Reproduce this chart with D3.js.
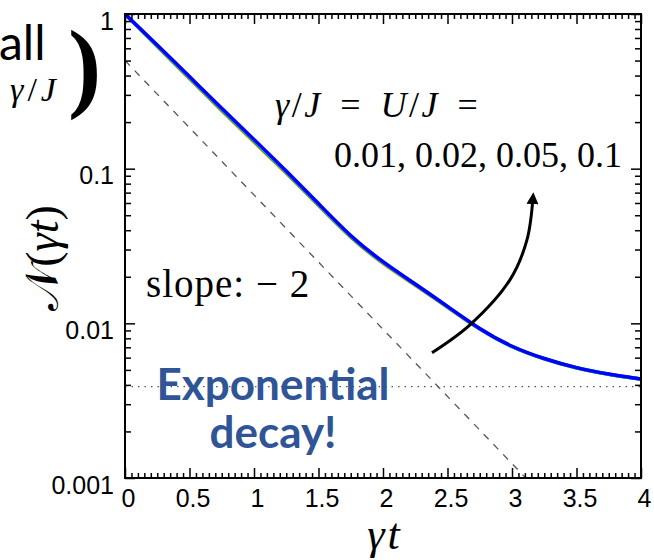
<!DOCTYPE html>
<html>
<head>
<meta charset="utf-8">
<script src="https://d3js.org/d3.v7.min.js"></script>
<style>
body { margin: 0; background: white; }
svg { display: block; }
</style>
</head>
<body>
<script>
// data
var times = [0, 0.25, 0.5, 0.75, 1, 1.25, 1.5, 1.75, 2, 2.25, 2.5, 2.75, 3, 3.25, 3.5, 3.75, 4];
var n001 = [1, 0.615, 0.381, 0.236, 0.149, 0.0935, 0.0578, 0.0354, 0.0242, 0.0177, 0.0127, 0.00906, 0.00697, 0.00585, 0.00511, 0.00466, 0.00435];
var n002 = [1, 0.620, 0.385, 0.239, 0.151, 0.0945, 0.0584, 0.0357, 0.0244, 0.0178, 0.0128, 0.00909, 0.00698, 0.00586, 0.00512, 0.00467, 0.00436];
var n005 = [1, 0.625, 0.389, 0.242, 0.153, 0.0955, 0.0590, 0.0360, 0.0246, 0.0179, 0.0128, 0.00912, 0.00699, 0.00587, 0.00512, 0.00467, 0.00436];
var n01  = [1, 0.631, 0.394, 0.245, 0.155, 0.0966, 0.0596, 0.0363, 0.0248, 0.0180, 0.0129, 0.00915, 0.00700, 0.00589, 0.00513, 0.00468, 0.00436];
var seriesColors = ["#ff8c00", "#2ca02c", "#00c0c0", "#0000ff"];

var slopeT = [0, 3.107];
var slopeN = [0.5, 0.001];
var plateau = 0.0039;

var xTicks = [0, 0.5, 1, 1.5, 2, 2.5, 3, 3.5, 4];
var yTicks = [1, 0.1, 0.01, 0.001];
var yTickLabels = ["1", "0.1", "0.01", "0.001"];

// arrow annotation path (data coords)
var arrowT = [2.38, 2.674, 2.984, 3.116, 3.163];
var arrowN = [0.00645, 0.00977, 0.0191, 0.0346, 0.0656];

var width = 654, height = 560;
var pLeft = 125, pRight = 641, pTop = 14, pBottom = 478;

var x = d3.scaleLinear().domain([0, 4]).range([pLeft, pRight]);
var y = d3.scaleLog().domain([0.001, 1]).range([pBottom, pTop]);

var svg = d3.select("body").append("svg")
  .attr("width", width)
  .attr("height", height);

var defs = svg.append("defs");
defs.append("clipPath").attr("id", "plot")
  .append("rect").attr("x", pLeft).attr("y", pTop)
  .attr("width", pRight - pLeft).attr("height", pBottom - pTop);
defs.append("marker").attr("id", "head")
  .attr("viewBox", "0 0 10 10").attr("refX", 6).attr("refY", 5)
  .attr("markerWidth", 4).attr("markerHeight", 4)
  .attr("orient", "auto")
  .append("path").attr("d", "M0,0 L10,5 L0,10 z").attr("fill", "black");

var g = svg.append("g").attr("clip-path", "url(#plot)");

// dotted plateau
g.append("line")
  .attr("x1", x(0)).attr("x2", x(4))
  .attr("y1", y(plateau)).attr("y2", y(plateau))
  .attr("stroke", "#555").attr("stroke-width", 1.3)
  .attr("stroke-dasharray", "1.5,5");

// dashed slope -2 guide
g.append("line")
  .attr("x1", x(slopeT[0])).attr("y1", y(slopeN[0]))
  .attr("x2", x(slopeT[1])).attr("y2", y(slopeN[1]))
  .attr("stroke", "#555").attr("stroke-width", 1.3)
  .attr("stroke-dasharray", "7,7");

// curves
var line = d3.line()
  .x(function(d) { return x(d[0]); })
  .y(function(d) { return y(d[1]); })
  .curve(d3.curveBasis);

[n001, n002, n005, n01].forEach(function(s, i) {
  g.append("path")
    .datum(d3.zip(times, s))
    .attr("fill", "none")
    .attr("stroke", seriesColors[i])
    .attr("stroke-width", 3.5)
    .attr("d", line);
});

// arrow
var arrowLine = d3.line()
  .x(function(d) { return x(d[0]); })
  .y(function(d) { return y(d[1]); })
  .curve(d3.curveCatmullRom);
svg.append("path")
  .datum(d3.zip(arrowT, arrowN))
  .attr("fill", "none")
  .attr("stroke", "black")
  .attr("stroke-width", 3)
  .attr("marker-end", "url(#head)")
  .attr("d", arrowLine);

// axes, ticks pointing inward
var minorX = d3.range(0, 4.0001, 0.05).filter(function(v) { return Math.abs(v * 2 - Math.round(v * 2)) > 1e-6; });
var minorY = [];
[0.001, 0.01, 0.1].forEach(function(p) { for (var k = 2; k <= 9; k++) minorY.push(p * k); });

function styleAxis(sel) {
  sel.select(".domain").remove();
  sel.selectAll(".tick line").attr("stroke", "black").attr("stroke-width", 1.5);
}

svg.append("g").attr("transform", "translate(0," + pBottom + ")")
  .call(d3.axisBottom(x).tickValues(xTicks).tickSize(-10).tickFormat(d3.format("")))
  .call(styleAxis)
  .selectAll("text")
  .attr("y", 29).attr("dy", null).attr("dx", 3)
  .style("font-family", "Liberation Sans, Arial, sans-serif")
  .style("font-size", "25px").attr("fill", "black");
svg.append("g").attr("transform", "translate(0," + pBottom + ")")
  .call(d3.axisBottom(x).tickValues(minorX).tickSize(-5).tickFormat(""))
  .call(styleAxis);
svg.append("g").attr("transform", "translate(0," + pTop + ")")
  .call(d3.axisTop(x).tickValues(xTicks).tickSize(-10).tickFormat(""))
  .call(styleAxis);
svg.append("g").attr("transform", "translate(0," + pTop + ")")
  .call(d3.axisTop(x).tickValues(minorX).tickSize(-5).tickFormat(""))
  .call(styleAxis);

svg.append("g").attr("transform", "translate(" + pLeft + ",0)")
  .call(d3.axisLeft(y).tickValues(yTicks).tickSize(-10)
    .tickFormat(function(d, i) { return yTickLabels[i]; }))
  .call(styleAxis)
  .selectAll("text")
  .attr("x", -11).attr("dy", "0.6em")
  .style("font-family", "Liberation Sans, Arial, sans-serif")
  .style("font-size", "25px").attr("fill", "black");
svg.append("g").attr("transform", "translate(" + pLeft + ",0)")
  .call(d3.axisLeft(y).tickValues(minorY).tickSize(-6).tickFormat(""))
  .call(styleAxis);
svg.append("g").attr("transform", "translate(" + pRight + ",0)")
  .call(d3.axisRight(y).tickValues(yTicks).tickSize(-10).tickFormat(""))
  .call(styleAxis);
svg.append("g").attr("transform", "translate(" + pRight + ",0)")
  .call(d3.axisRight(y).tickValues(minorY).tickSize(-6).tickFormat(""))
  .call(styleAxis);

// frame
svg.append("rect")
  .attr("x", pLeft).attr("y", pTop)
  .attr("width", pRight - pLeft).attr("height", pBottom - pTop)
  .attr("fill", "none").attr("stroke", "black").attr("stroke-width", 2);

var serif = "Liberation Serif, Times New Roman, serif";

// axis titles
svg.append("text")
  .attr("x", 385).attr("y", 549)
  .attr("text-anchor", "middle")
  .style("font-family", serif).style("font-style", "italic")
  .style("font-size", "44px").style("letter-spacing", "3px")
  .text("γt");

var yl = svg.append("text")
  .attr("transform", "translate(58,258) rotate(-90)")
  .attr("text-anchor", "middle")
  .style("font-family", serif)
  .style("font-size", "46px");
yl.append("tspan").text("𝒩(");
yl.append("tspan").style("font-style", "italic").text("γt");
yl.append("tspan").text(")");

// annotations
var eq = svg.append("text").attr("x", 275).attr("y", 117)
  .style("font-family", serif).style("font-size", "36px")
  .style("letter-spacing", "2.5px").style("word-spacing", "6px");
eq.append("tspan").style("font-style", "italic").text("γ");
eq.append("tspan").text("/");
eq.append("tspan").style("font-style", "italic").text("J");
eq.append("tspan").text(" = ");
eq.append("tspan").style("font-style", "italic").text("U");
eq.append("tspan").text("/");
eq.append("tspan").style("font-style", "italic").text("J");
eq.append("tspan").text(" =");

svg.append("text").attr("x", 334).attr("y", 167)
  .style("font-family", serif).style("font-size", "36px")
  .text("0.01, 0.02, 0.05, 0.1");

svg.append("text").attr("x", 146).attr("y", 297)
  .style("font-family", serif).style("font-size", "39px")
  .style("letter-spacing", "1px")
  .text("slope: − 2");

var blue = "#2f5597";
svg.append("text").attr("x", 273).attr("y", 400)
  .attr("text-anchor", "middle")
  .style("font-family", "Lato, sans-serif").style("font-weight", "bold")
  .style("font-size", "44px").attr("fill", blue)
  .text("Exponential");
svg.append("text").attr("x", 273).attr("y", 448)
  .attr("text-anchor", "middle")
  .style("font-family", "Lato, sans-serif").style("font-weight", "bold")
  .style("font-size", "44px").attr("fill", blue)
  .text("decay!");

// leftover slide text on the left
svg.append("text").attr("x", -1).attr("y", 60)
  .style("font-family", "Lato, sans-serif").style("font-size", "48px")
  .text("all");
var gj = svg.append("text").attr("x", 10).attr("y", 101)
  .style("font-family", serif).style("font-size", "34px")
  .style("letter-spacing", "4px");
gj.append("tspan").style("font-style", "italic").text("γ");
gj.append("tspan").text("/");
gj.append("tspan").style("font-style", "italic").text("J");
svg.append("text").attr("x", 68).attr("y", 99)
  .style("font-family", serif).style("font-weight", "bold")
  .style("font-size", "100px")
  .text(")");
</script>
</body>
</html>
